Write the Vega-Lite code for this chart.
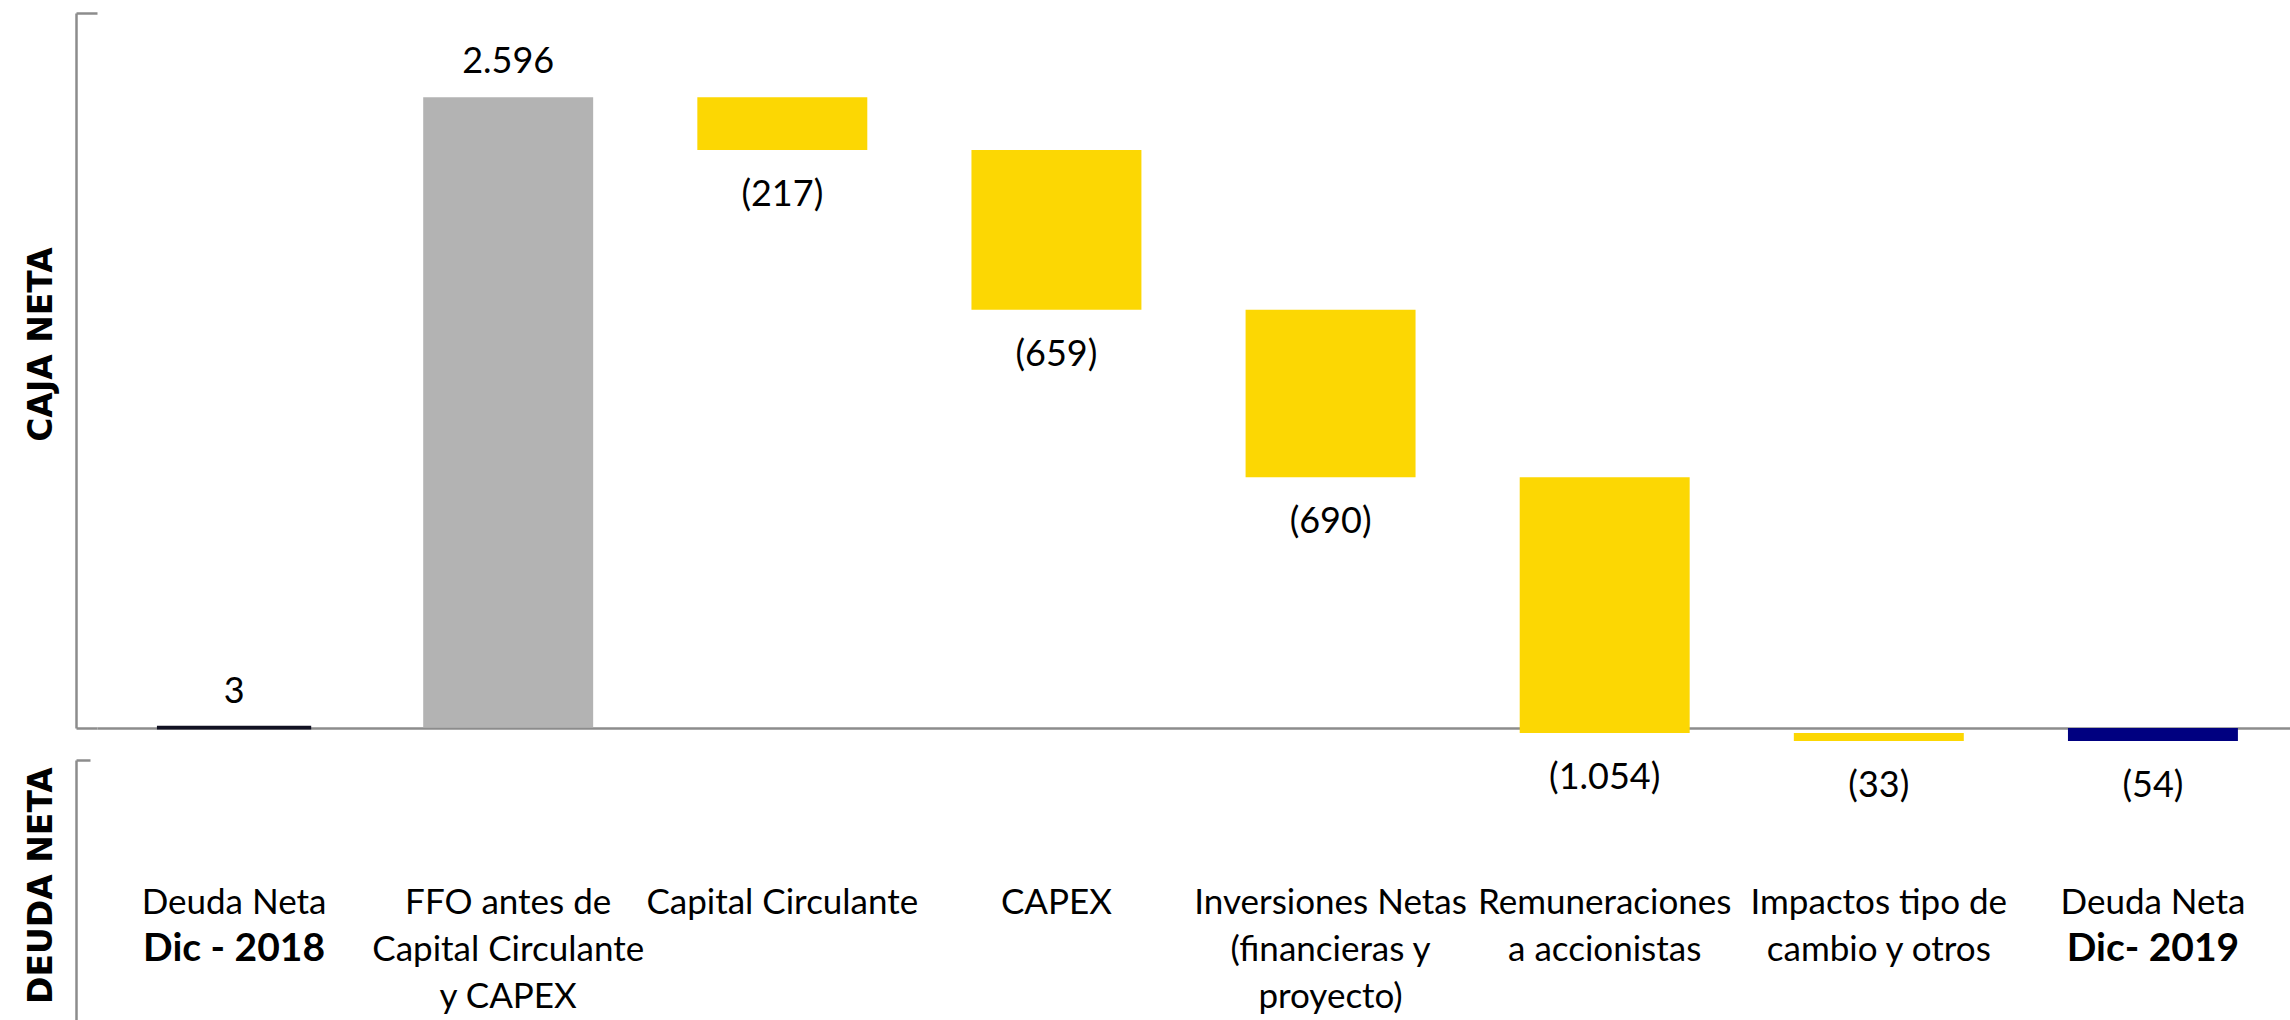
{
  "$schema": "https://vega.github.io/schema/vega-lite/v6.json",
  "padding": {"left": 24, "top": 11, "right": 0, "bottom": 0},
  "background": "white",
  "bounds": "flush",
  "spacing": 32,
  "config": {"view": {"stroke": null}, "font": "Lato"},
  "datasets": {
    "bars": [
      {"cat": "d2018", "nombre": "Deuda Neta", "sub": "Dic - 2018", "start": 0, "end": 3, "valor": 3, "etiqueta": "3", "tipo": "inicial"},
      {"cat": "ffo", "nombre": "FFO antes de\nCapital Circulante\ny CAPEX", "start": 3, "end": 2599, "valor": 2596, "etiqueta": "2.596", "tipo": "ffo"},
      {"cat": "cc", "nombre": "Capital Circulante", "start": 2599, "end": 2382, "valor": -217, "etiqueta": "(217)", "tipo": "negativo"},
      {"cat": "capex", "nombre": "CAPEX", "start": 2382, "end": 1723, "valor": -659, "etiqueta": "(659)", "tipo": "negativo"},
      {"cat": "inv", "nombre": "Inversiones Netas\n(financieras y\nproyecto)", "start": 1723, "end": 1033, "valor": -690, "etiqueta": "(690)", "tipo": "negativo"},
      {"cat": "rem", "nombre": "Remuneraciones\na accionistas", "start": 1033, "end": -21, "valor": -1054, "etiqueta": "(1.054)", "tipo": "negativo"},
      {"cat": "imp", "nombre": "Impactos tipo de\ncambio y otros", "start": -21, "end": -54, "valor": -33, "etiqueta": "(33)", "tipo": "negativo"},
      {"cat": "d2019", "nombre": "Deuda Neta", "sub": "Dic- 2019", "start": 0, "end": -54, "valor": -54, "etiqueta": "(54)", "tipo": "final"}
    ]
  },
  "resolve": {"scale": {"x": "shared"}},
  "vconcat": [
    {
      "width": 2193,
      "height": 715,
      "data": {"name": "bars"},
      "encoding": {
        "x": {
          "field": "cat", "type": "nominal",
          "sort": ["d2018", "ffo", "cc", "capex", "inv", "rem", "imp", "d2019"],
          "scale": {"paddingInner": 0.38, "paddingOuter": 0.19},
          "axis": {"title": null, "labels": false, "ticks": false, "domainColor": "#8c8c8c", "domainWidth": 2.5}
        }
      },
      "layer": [
        {
          "transform": [{"filter": "datum.tipo !== 'inicial'"}],
          "mark": {"type": "bar"},
          "encoding": {
            "y": {
              "field": "start", "type": "quantitative",
              "scale": {"domain": [0, 2946], "nice": false, "zero": false},
              "axis": {
                "title": "CAJA NETA", "titleX": -35, "titleY": 331, "titleAngle": -90,
                "titleAlign": "center", "titleBaseline": "middle",
                "titleFont": "DejaVu Sans", "titleFontSize": 33, "titleFontWeight": "bold", "titleColor": "#000000",
                "labels": false, "grid": false, "values": [0, 2946],
                "tickSize": -21, "tickColor": "#8c8c8c", "tickWidth": 2.5,
                "domainColor": "#8c8c8c", "domainWidth": 2.5, "offset": 21
              }
            },
            "y2": {"field": "end"},
            "color": {
              "field": "tipo", "type": "nominal",
              "scale": {"domain": ["inicial", "ffo", "negativo", "final"], "range": ["#0c2a6a", "#b3b3b3", "#fcd703", "#000080"]},
              "legend": null
            }
          }
        },
        {
          "transform": [{"filter": "datum.tipo === 'inicial'"}],
          "mark": {"type": "bar", "width": {"band": 0.89}, "stroke": "#111122", "strokeWidth": 3},
          "encoding": {
            "y": {"field": "start", "type": "quantitative"},
            "y2": {"field": "end"},
            "color": {"field": "tipo", "type": "nominal", "legend": null}
          }
        },
        {
          "transform": [{"filter": "datum.valor > 0"}],
          "mark": {"type": "text", "baseline": "middle", "align": "center", "dy": -35, "fontSize": 36, "color": "#000000"},
          "encoding": {
            "y": {"field": "end", "type": "quantitative"},
            "text": {"field": "etiqueta"}
          }
        },
        {
          "transform": [{"filter": "datum.valor < 0"}],
          "mark": {"type": "text", "baseline": "middle", "align": "center", "dy": 45, "fontSize": 36, "color": "#000000"},
          "encoding": {
            "y": {"field": "end", "type": "quantitative"},
            "text": {"field": "etiqueta"}
          }
        }
      ]
    },
    {
      "width": 2193,
      "height": 261,
      "data": {"name": "bars"},
      "encoding": {
        "x": {
          "field": "cat", "type": "nominal",
          "sort": ["d2018", "ffo", "cc", "capex", "inv", "rem", "imp", "d2019"],
          "axis": null
        }
      },
      "layer": [
        {
          "mark": {"type": "text", "baseline": "top", "align": "center", "lineBreak": "\n", "lineHeight": 47, "fontSize": 35, "color": "#000000"},
          "encoding": {
            "y": {
              "datum": -651, "type": "quantitative",
              "scale": {"domain": [-1207, -132], "nice": false, "zero": false},
              "axis": {
                "title": "DEUDA NETA", "titleX": -35, "titleY": 125, "titleAngle": -90,
                "titleAlign": "center", "titleBaseline": "middle",
                "titleFont": "DejaVu Sans", "titleFontSize": 33, "titleFontWeight": "bold", "titleColor": "#000000",
                "labels": false, "grid": false, "values": [-132],
                "tickSize": -14, "tickColor": "#8c8c8c", "tickWidth": 2.5,
                "domainColor": "#8c8c8c", "domainWidth": 2.5, "offset": 21
              }
            },
            "text": {"field": "nombre"}
          }
        },
        {
          "transform": [{"filter": "isValid(datum.sub)"}],
          "mark": {"type": "text", "baseline": "top", "align": "center", "fontSize": 39, "fontWeight": "bold", "color": "#000000"},
          "encoding": {
            "y": {"datum": -832, "type": "quantitative"},
            "text": {"field": "sub"}
          }
        }
      ]
    }
  ]
}
